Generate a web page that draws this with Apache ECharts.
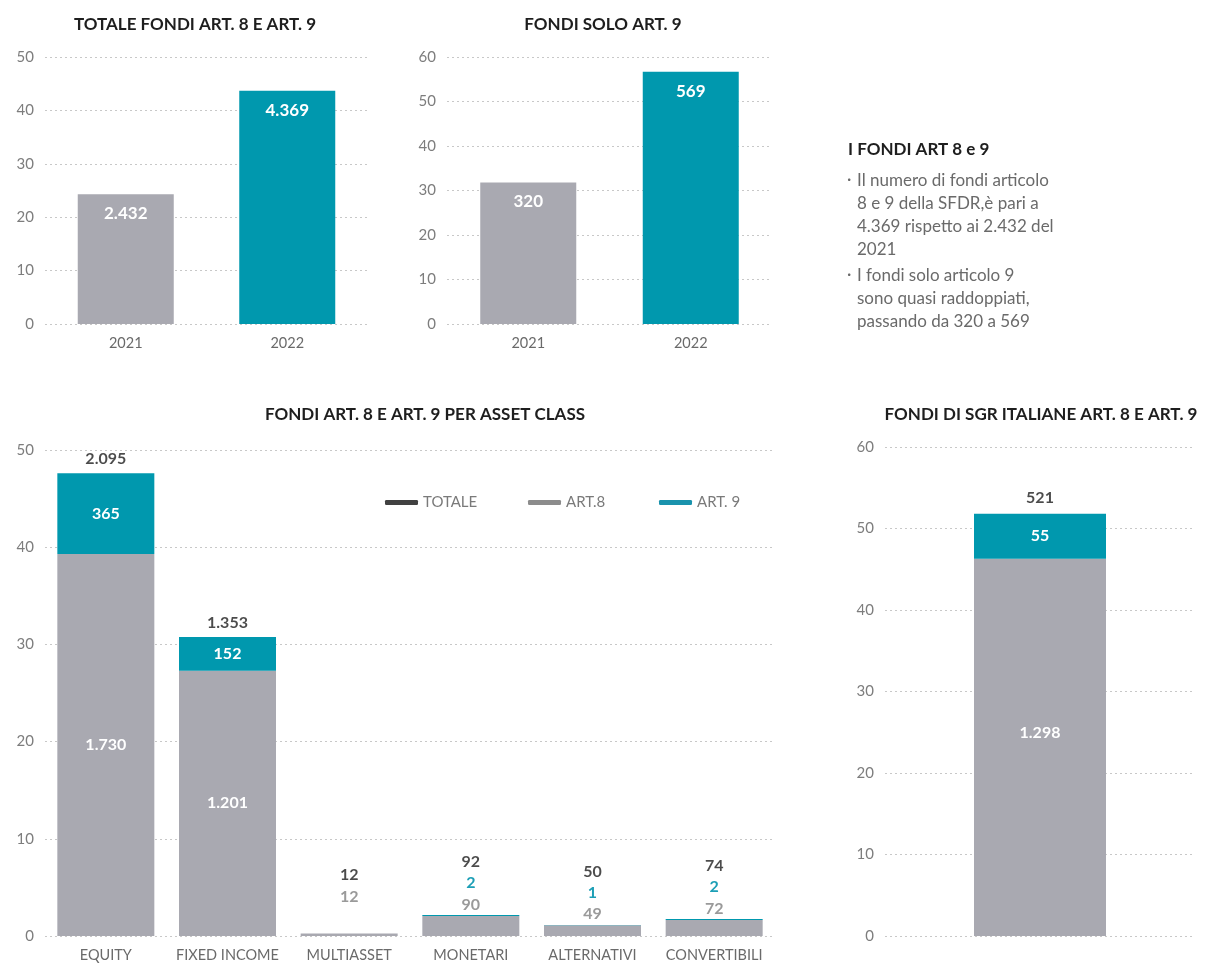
<!DOCTYPE html>
<html>
<head>
<meta charset="utf-8">
<script src="https://cdn.jsdelivr.net/npm/echarts@6/dist/echarts.min.js"></script>
<style>
  html, body { margin: 0; padding: 0; background: #fff; }
  #chart { width: 1207px; height: 967px; }
</style>
</head>
<body>
<div id="chart"></div>
<script>
// dati (altezze in unità dell'asse, etichette come stampate)
const years = ['2021', '2022'];
const totaleValues = [24.3, 43.7];
const totaleLabels = ['2.432', '4.369'];
const soloArt9Values = [31.8, 56.7];
const soloArt9Labels = ['320', '569'];

const assetClasses = ['EQUITY', 'FIXED INCOME', 'MULTIASSET', 'MONETARI', 'ALTERNATIVI', 'CONVERTIBILI'];
const art8Values = [39.3, 27.3, 0.27, 2.05, 1.11, 1.64];
const art9Values = [8.3, 3.45, 0, 0.12, 0.03, 0.12];
const art8Labels = ['1.730', '1.201', '12', '90', '49', '72'];
const art9Labels = ['365', '152', '', '2', '1', '2'];
const totalLabels = ['2.095', '1.353', '12', '92', '50', '74'];

const sgrCategory = ['SGR ITALIANE'];
const sgrArt8Values = [46.3];
const sgrArt9Values = [5.5];
const sgrArt8Labels = ['1.298'];
const sgrArt9Labels = ['55'];
const sgrTotalLabels = ['521'];

const GRAY = '#a9a9b1';
const TEAL = '#0098ae';
const FONT = 'Lato, "Open Sans", sans-serif';

const chart = echarts.init(document.getElementById('chart'));

// assi comuni
function yAxis(grid, max) {
    return {
        type: 'value', gridIndex: grid, min: 0, max: max, interval: 10,
        axisLine: { show: false }, axisTick: { show: false },
        axisLabel: { color: '#7d7d7d', fontSize: 15, fontFamily: FONT, margin: 11 },
        splitLine: { lineStyle: { color: '#c8c8c8', type: [2, 3], width: 1 } }
    };
}
function xAxis(grid, data) {
    return {
        type: 'category', gridIndex: grid, data: data,
        axisLine: { show: false }, axisTick: { show: false },
        axisLabel: { color: '#6a6a6a', fontSize: 14.5, fontFamily: FONT, margin: 12, interval: 0 }
    };
}
const boldLabel = { fontFamily: FONT, fontWeight: 'bold', fontSize: 16 };

chart.setOption({
    animation: false,
    textStyle: { fontFamily: FONT },
    title: [
        { text: 'TOTALE FONDI ART. 8 E ART. 9', left: 190, top: 11, textAlign: 'center' },
        { text: 'FONDI SOLO ART. 9', left: 598, top: 11, textAlign: 'center' },
        { text: 'FONDI ART. 8 E ART. 9 PER ASSET CLASS', left: 420, top: 401, textAlign: 'center' },
        { text: 'FONDI DI SGR ITALIANE ART. 8 E ART. 9', left: 1036, top: 401, textAlign: 'center' }
    ].map(t => Object.assign(t, {
        textStyle: { fontFamily: FONT, fontWeight: 'bold', fontSize: 17, color: '#1e1e1e' }
    })),
    legend: [
        { data: [{ name: 'TOTALE', itemStyle: { color: '#111' } }], left: 380 },
        { data: [{ name: 'ART.8', itemStyle: { color: '#8c8c8c' } }], left: 523 },
        { data: [{ name: 'ART. 9', itemStyle: { color: '#1a93ad' } }], left: 654 }
    ].map(l => Object.assign(l, {
        top: 490, icon: 'roundRect', itemWidth: 33, itemHeight: 5, itemGap: 8,
        selectedMode: false,
        textStyle: { color: '#7a7a7a', fontSize: 15, fontFamily: FONT }
    })),
    grid: [
        { left: 45, top: 57, width: 323, height: 267 },
        { left: 447, top: 57, width: 325, height: 267 },
        { left: 45, top: 450, width: 730, height: 486 },
        { left: 885, top: 447, width: 310, height: 489 }
    ],
    xAxis: [xAxis(0, years), xAxis(1, years), xAxis(2, assetClasses),
        Object.assign(xAxis(3, sgrCategory), { axisLabel: { show: false } })],
    yAxis: [yAxis(0, 50), yAxis(1, 60), yAxis(2, 50), yAxis(3, 60)],
    graphic: [
        { type: 'text', x: 848, y: 150, style: { text: 'I FONDI ART 8 e 9', font: 'bold 17px ' + FONT, fill: '#1e1e1e', verticalAlign: 'middle' } },
        { type: 'text', x: 847, y: 180, style: { text: '·', font: '17px ' + FONT, fill: '#6a6a6a', verticalAlign: 'middle' } },
        { type: 'text', x: 857, y: 169, style: { text: 'Il numero di fondi articolo\n8 e 9 della SFDR,è pari a\n4.369 rispetto ai 2.432 del\n2021', font: '17px ' + FONT, fill: '#6a6a6a', lineHeight: 23, verticalAlign: 'top' } },
        { type: 'text', x: 847, y: 275, style: { text: '·', font: '17px ' + FONT, fill: '#6a6a6a', verticalAlign: 'middle' } },
        { type: 'text', x: 857, y: 264, style: { text: 'I fondi solo articolo 9\nsono quasi raddoppiati,\npassando da 320 a 569', font: '17px ' + FONT, fill: '#6a6a6a', lineHeight: 23, verticalAlign: 'top' } }
    ],
    series: [
        {
            type: 'bar', xAxisIndex: 0, yAxisIndex: 0, barWidth: 96,
            data: totaleValues.map((v, i) => ({ value: v, itemStyle: { color: i === 0 ? GRAY : TEAL } })),
            label: Object.assign({ show: true, position: 'insideTop', distance: 11, color: '#fff', fontSize: 17,
                formatter: p => totaleLabels[p.dataIndex] }, { fontFamily: FONT, fontWeight: 'bold' })
        },
        {
            type: 'bar', xAxisIndex: 1, yAxisIndex: 1, barWidth: 96,
            data: soloArt9Values.map((v, i) => ({ value: v, itemStyle: { color: i === 0 ? GRAY : TEAL } })),
            label: Object.assign({ show: true, position: 'insideTop', distance: 11, color: '#fff', fontSize: 17,
                formatter: p => soloArt9Labels[p.dataIndex] }, { fontFamily: FONT, fontWeight: 'bold' })
        },
        // per asset class
        {
            name: 'ART.8', type: 'bar', xAxisIndex: 2, yAxisIndex: 2, stack: 'a', barWidth: 97,
            itemStyle: { color: GRAY },
            data: art8Values.map((v, i) => ({
                value: v,
                label: i < 2 ? { position: 'inside', color: '#fff' }
                    : { position: 'top', distance: i === 2 ? 29 : 3, color: '#9a9a9a' }
            })),
            label: Object.assign({ show: true, formatter: p => art8Labels[p.dataIndex] }, boldLabel)
        },
        {
            name: 'ART. 9', type: 'bar', xAxisIndex: 2, yAxisIndex: 2, stack: 'a', barWidth: 97,
            itemStyle: { color: TEAL },
            data: art9Values.map((v, i) => ({
                value: v,
                label: i < 2 ? { position: 'inside', color: '#fff' }
                    : { position: 'top', distance: 24, color: '#1d9fb6' }
            })),
            label: Object.assign({ show: true, formatter: p => art9Labels[p.dataIndex] }, boldLabel)
        },
        {
            name: 'TOTALE', type: 'scatter', xAxisIndex: 2, yAxisIndex: 2, symbolSize: 0,
            itemStyle: { color: '#111' },
            data: art8Values.map((v, i) => ({
                value: v + art9Values[i],
                label: { distance: i < 2 ? 6 : (i === 2 ? 51 : 45) }
            })),
            label: Object.assign({ show: true, position: 'top', color: '#1e1e1e',
                formatter: p => totalLabels[p.dataIndex] }, boldLabel)
        },
        // SGR italiane
        {
            name: 'ART.8', type: 'bar', xAxisIndex: 3, yAxisIndex: 3, stack: 'b', barWidth: 132,
            itemStyle: { color: GRAY }, data: sgrArt8Values,
            label: Object.assign({ show: true, position: 'inside', offset: [0, -14], color: '#fff',
                formatter: p => sgrArt8Labels[p.dataIndex] }, boldLabel)
        },
        {
            name: 'ART. 9', type: 'bar', xAxisIndex: 3, yAxisIndex: 3, stack: 'b', barWidth: 132,
            itemStyle: { color: TEAL }, data: sgrArt9Values,
            label: Object.assign({ show: true, position: 'inside', color: '#fff',
                formatter: p => sgrArt9Labels[p.dataIndex] }, boldLabel)
        },
        {
            name: 'TOTALE', type: 'scatter', xAxisIndex: 3, yAxisIndex: 3, symbolSize: 0,
            itemStyle: { color: '#111' },
            data: sgrArt8Values.map((v, i) => v + sgrArt9Values[i]),
            label: Object.assign({ show: true, position: 'top', distance: 8, color: '#1e1e1e',
                formatter: p => sgrTotalLabels[p.dataIndex] }, boldLabel)
        }
    ]
});

window.addEventListener('resize', () => {
    chart.resize();
});
</script>
</body>
</html>
